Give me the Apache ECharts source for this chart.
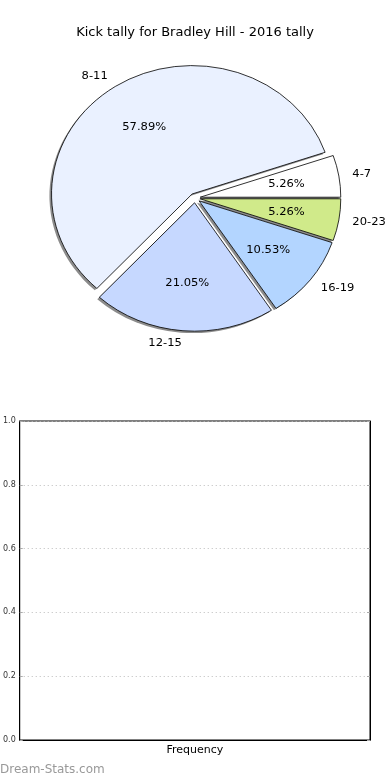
<!DOCTYPE html>
<html>
<head>
<meta charset="utf-8">
<script src="https://cdn.jsdelivr.net/npm/echarts@6/dist/echarts.min.js"></script>
<style>
html,body{margin:0;padding:0;background:#fff;}
#wrap{position:relative;width:390px;height:780px;overflow:hidden;}
#chart{position:absolute;left:0;top:0;width:390px;height:780px;}
#pie{position:absolute;left:0;top:0;width:390px;height:780px;pointer-events:none;}
</style>
</head>
<body>
<div id="wrap">
<div id="chart"></div>
<div id="pie"></div>
</div>
<script>
// ---- data ----
const categories = ['4-7', '8-11', '12-15', '16-19', '20-23'];
const kicks = [1, 11, 4, 2, 1];
const sliceColors = ['#ffffff', '#eaf1ff', '#c6d8ff', '#b3d5ff', '#d0ea8a'];
const barCategories = ['Frequency'];
const yMin = 0, yMax = 1, yStep = 0.2;

const FONT = 'DejaVu Sans';
const R = 134;
const CENTER = [195, 198];
const EXPLODE = 5;
// the original pie is drawn on non-equal axes, so it is an ellipse
const RX = 140.6, RY = 128.4;
const total = kicks.reduce((a, b) => a + b, 0);

// ---------- main chart: title, watermark, empty frequency axes ----------
const chart = echarts.init(document.getElementById('chart'), null, {renderer: 'canvas'});
chart.setOption({
  animation: false,
  backgroundColor: '#fff',
  title: {
    text: 'Kick tally for Bradley Hill - 2016 tally',
    left: 'center', top: 21,
    textStyle: {fontFamily: FONT, fontSize: 13, fontWeight: 'normal', color: '#000'}
  },
  graphic: [{
    type: 'text', left: 0, top: 764,
    style: {text: 'Dream-Stats.com', fontFamily: FONT, fontSize: 12, fill: '#999', fontWeight: 'normal'}
  }],
  grid: {left: 19, right: 20, top: 421, bottom: 40, show: true, borderColor: '#000', borderWidth: 1, backgroundColor: 'transparent'},
  xAxis: {
    type: 'category', data: barCategories,
    axisLine: {show: true, lineStyle: {color: '#000'}},
    axisTick: {show: false},
    axisLabel: {fontFamily: FONT, fontSize: 11, color: '#000', margin: 5}
  },
  yAxis: [{
    type: 'value', min: yMin, max: yMax, interval: yStep, position: 'left',
    axisLine: {show: true, lineStyle: {color: '#000'}},
    axisTick: {show: true, inside: true, length: 3, lineStyle: {color: '#aaa'}},
    axisLabel: {fontFamily: FONT, fontSize: 8, color: '#333', margin: 4, formatter: v => v.toFixed(1)},
    splitLine: {show: true, lineStyle: {color: '#bbb', type: [1, 3], width: 1}}
  }, {
    type: 'value', min: yMin, max: yMax, interval: yStep, position: 'right',
    axisLine: {show: true, lineStyle: {color: '#000'}},
    axisTick: {show: true, inside: true, length: 3, lineStyle: {color: '#aaa'}},
    axisLabel: {show: false},
    splitLine: {show: false}
  }],
  series: [{type: 'bar', data: [], xAxisIndex: 0, yAxisIndex: 0}]
});

// ---------- pie chart (stretched into an ellipse like the original) ----------
const pieDiv = document.getElementById('pie');
pieDiv.style.transformOrigin = CENTER[0] + 'px ' + CENTER[1] + 'px';
pieDiv.style.transform = 'scale(' + (RX / R) + ',' + (RY / R) + ')';
const pie = echarts.init(pieDiv, null, {renderer: 'svg'});

const makeData = (withColor) => categories.map((c, i) => {
  const d = {name: c, value: kicks[i], selected: true};
  if (withColor) d.itemStyle = {color: sliceColors[i]};
  return d;
});
const pieBase = {
  type: 'pie', startAngle: 0, clockwise: false,
  selectedMode: 'multiple', selectedOffset: EXPLODE,
  avoidLabelOverlap: false, silent: true,
  emphasis: {disabled: true}
};
pie.setOption({
  animation: false,
  backgroundColor: 'transparent',
  series: [
    Object.assign({}, pieBase, {
      // shadow layer
      z: 1, center: [CENTER[0] - 2, CENTER[1] + 2], radius: R,
      data: makeData(false),
      itemStyle: {color: 'rgba(0,0,0,0.45)', borderWidth: 0},
      label: {show: false}, labelLine: {show: false}
    }),
    Object.assign({}, pieBase, {
      z: 2, center: CENTER, radius: R,
      data: makeData(true),
      itemStyle: {borderColor: '#000', borderWidth: 0.8},
      label: {show: true, position: 'outside', formatter: '{b}', fontFamily: FONT, fontSize: 11, color: '#000', distanceToLabelLine: 0},
      labelLine: {show: false, length: Math.round(R * 0.1), length2: 0}
    }),
    Object.assign({}, pieBase, {
      z: 3, center: CENTER, radius: R * 1.2,
      data: makeData(false),
      itemStyle: {color: 'rgba(0,0,0,0)', borderWidth: 0},
      label: {show: true, position: 'inside', fontFamily: FONT, fontSize: 11, color: '#000',
        formatter: p => (p.value / total * 100).toFixed(2) + '%'},
      labelLine: {show: false}
    })
  ]
});
</script>
</body>
</html>
